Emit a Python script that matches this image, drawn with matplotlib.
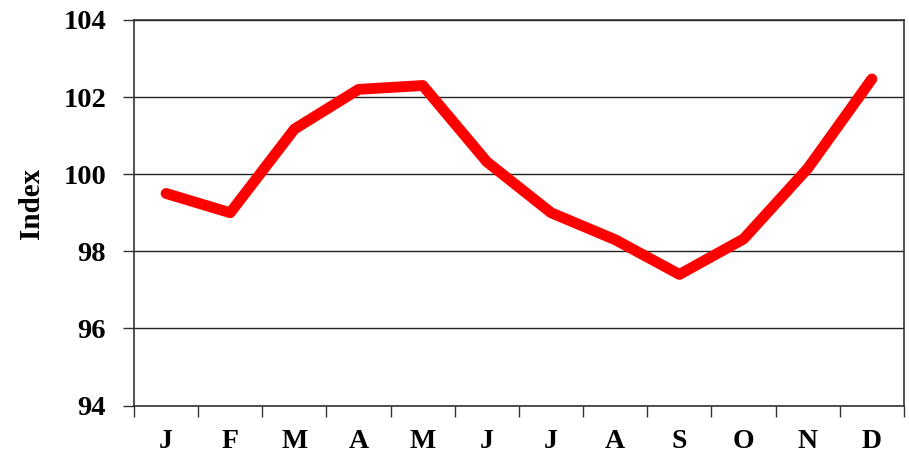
import matplotlib
matplotlib.use("Agg")
import matplotlib.pyplot as plt
import numpy as np

months = ["J", "F", "M", "A", "M", "J", "J", "A", "S", "O", "N", "D"]
index_values = [99.5, 99.0, 101.17, 102.2, 102.3, 100.32, 99.0, 98.3, 97.4, 98.32, 100.15, 102.47]
y_ticks = [94, 96, 98, 100, 102, 104]

plt.rcParams['font.family'] = ['Liberation Serif', 'DejaVu Serif']
plt.rcParams['font.weight'] = 'bold'

fig = plt.figure(figsize=(9.09, 4.54), dpi=100)
ax = fig.add_axes([0.1474, 0.1068, 0.9945 - 0.1474, 0.956 - 0.1068])

x = np.arange(len(months))
ax.plot(x, index_values, color='#ff0000', linewidth=7.8, solid_capstyle='round',
        solid_joinstyle='round', zorder=3)

ax.set_xlim(-0.5, len(months) - 0.5)
ax.set_ylim(94, 104)
ax.set_yticks(y_ticks)
ax.set_yticklabels([str(v) for v in y_ticks], fontsize=20.5, fontweight='bold')
ax.yaxis.grid(True, color='#222222', linewidth=1.0)
ax.set_axisbelow(True)

ax.set_xticks(np.arange(-0.5, len(months) + 0.5, 1.0))
ax.set_xticklabels([])
ax.set_xticks(x, minor=True)
ax.set_xticklabels(months, minor=True, fontsize=20, fontweight='bold')
ax.tick_params(axis='x', which='minor', length=0, pad=17)
ax.tick_params(axis='x', which='major', length=8, width=1.0, direction='out', color='#333333')
ax.tick_params(axis='y', length=8, width=1.0, direction='out', color='#333333', pad=12)

for s in ax.spines.values():
    s.set_color('#333333')
    s.set_linewidth(1.2)

ax.set_ylabel('Index', fontsize=21, fontweight='bold', labelpad=13)
ax.yaxis.label.set_y(0.525)

fig.savefig('out.png', dpi=100)
